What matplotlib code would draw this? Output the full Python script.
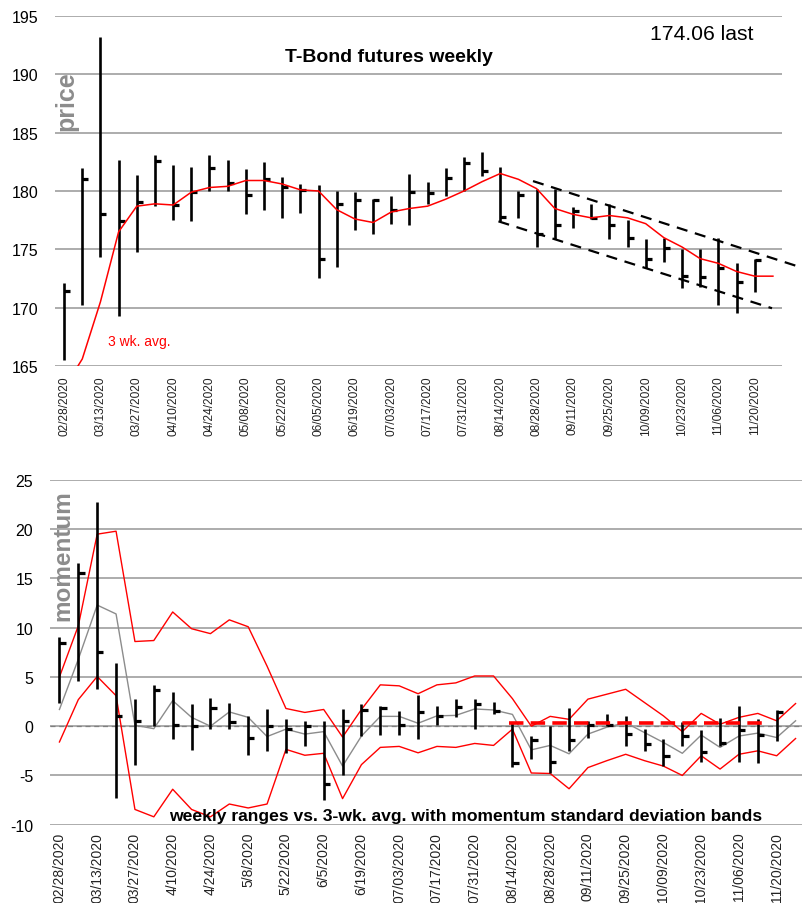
import matplotlib
matplotlib.use("Agg")
import matplotlib.pyplot as plt
import numpy as np

plt.rcParams['font.family'] = ['Liberation Sans', 'DejaVu Sans']
plt.rcParams['axes.unicode_minus'] = False

# ---------------- data ----------------
top_labels = ["02/28/2020", "03/13/2020", "03/27/2020", "04/10/2020", "04/24/2020",
              "05/08/2020", "05/22/2020", "06/05/2020", "06/19/2020", "07/03/2020",
              "07/17/2020", "07/31/2020", "08/14/2020", "08/28/2020", "09/11/2020",
              "09/25/2020", "10/09/2020", "10/23/2020", "11/06/2020", "11/20/2020"]
bot_labels = ["02/28/2020", "03/13/2020", "03/27/2020", "4/10/2020", "4/24/2020",
              "5/8/2020", "5/22/2020", "6/5/2020", "6/19/2020", "07/03/2020",
              "07/17/2020", "07/31/2020", "08/14/2020", "08/28/2020", "09/11/2020",
              "09/25/2020", "10/09/2020", "10/23/2020", "11/06/2020", "11/20/2020"]

price_high = [172.1, 182.0, 193.2, 182.7, 181.4, 183.1, 182.2, 182.1, 183.1, 182.7,
              181.9, 182.5, 181.2, 180.6, 180.5, 180.0, 179.9, 179.3, 179.6, 181.5,
              180.8, 182.0, 182.9, 183.3, 182.1, 180.0, 180.2, 180.2, 178.6, 178.9,
              178.9, 177.5, 175.9, 176.0, 175.0, 175.0, 176.0, 173.8, 174.2]
price_low = [165.5, 170.2, 174.3, 169.3, 174.8, 178.7, 177.5, 177.4, 180.0, 180.0,
             178.0, 178.4, 177.7, 178.1, 172.5, 173.5, 176.7, 176.3, 177.2, 177.1,
             178.9, 179.6, 180.0, 181.3, 177.4, 177.7, 175.2, 175.9, 176.8, 177.6,
             175.9, 175.2, 173.4, 173.9, 171.7, 171.8, 170.2, 169.5, 171.3]
price_close = [171.4, 181.0, 178.0, 177.4, 179.1, 182.6, 178.8, 179.9, 182.0, 180.7,
               179.7, 181.0, 180.3, 180.1, 174.2, 178.9, 179.2, 179.2, 178.4, 179.9,
               179.8, 181.1, 182.4, 181.7, 177.8, 179.7, 176.3, 177.1, 178.3, 177.7,
               177.1, 176.0, 174.2, 175.1, 172.7, 172.6, 173.4, 172.2, 174.06]
avg3 = [163.1, 165.6, 170.5, 176.5, 178.7, 178.9, 178.8, 179.9, 180.3, 180.4,
        180.9, 180.9, 180.6, 180.1, 180.0, 178.4, 177.6, 177.3, 178.2, 178.5,
        178.7, 179.3, 180.0, 180.8, 181.5, 181.0, 180.2, 178.5, 178.0, 177.7,
        177.9, 177.7, 177.2, 176.0, 175.2, 174.2, 173.8, 173.1, 172.7, 172.7]
# channel lines (x in week index, y in price)
chan_upper_x = [25.8, 40.65]
chan_upper_y = [180.85, 173.4]
chan_lower_x = [23.9, 38.95]
chan_lower_y = [177.4, 169.95]

mom_high = [9.1, 16.6, 22.8, 6.4, 2.75, 4.2, 3.5, 2.3, 2.9, 2.4,
            1.0, 1.7, 0.7, 0.5, 0.5, 1.7, 2.3, 2.1, 1.5, 3.15,
            2.1, 2.75, 2.8, 2.5, 0.4, -1.0, 0.0, 1.8, 0.5, 1.2,
            1.05, -0.3, -1.3, 0.45, -0.4, 0.8, 2.1, 0.7, 1.65]
mom_low = [2.4, 4.6, 3.8, -7.3, -3.9, 0.0, -1.25, -2.45, -0.3, -0.3,
           -2.95, -2.5, -2.75, -2.0, -7.5, -5.0, -1.0, -0.9, -0.9, -1.25,
           0.1, 0.9, -0.25, 1.2, -4.15, -3.35, -4.8, -2.5, -1.15, 0.0,
           -2.0, -2.5, -4.0, -2.0, -3.6, -2.0, -3.6, -3.7, -1.5]
mom_close = [8.4, 15.6, 7.5, 1.0, 0.5, 3.7, 0.1, 0.0, 1.8, 0.4,
             -1.15, 0.0, -0.25, 0.0, -5.9, 0.5, 1.65, 1.9, 0.15, 1.4,
             1.05, 2.0, 2.25, 1.5, -3.75, -1.4, -3.6, -1.4, 0.1, 0.1,
             -0.8, -1.85, -3.0, -1.0, -2.6, -1.75, -0.4, -0.9, 1.4]
band_upper = [5.0, 10.2, 19.5, 19.8, 8.6, 8.7, 11.6, 9.9, 9.4, 10.8,
              10.1, 6.1, 1.8, 1.4, 1.7, -1.1, 1.7, 4.2, 4.1, 3.3,
              4.2, 4.4, 5.1, 5.1, 2.8, 0.0, 1.0, 0.7, 2.75, 3.25,
              3.75, 2.4, 1.05, -0.55, 1.3, 0.2, 0.9, 1.3, 0.55, 2.3]
band_lower = [-1.6, 2.7, 5.05, 3.1, -8.45, -9.2, -6.4, -8.45, -9.2, -7.9,
              -8.3, -7.9, -2.35, -2.95, -2.75, -7.35, -3.9, -2.15, -2.05, -2.7,
              -2.05, -2.15, -1.75, -1.95, -0.3, -4.75, -4.8, -6.35, -4.2, -3.5,
              -2.85, -3.5, -4.05, -5.0, -3.0, -4.35, -2.85, -2.5, -3.0, -1.25]
mom_avg = [1.7, 6.8, 12.3, 11.4, 0.1, -0.25, 2.6, 0.9, 0.0, 1.45,
           0.9, -1.05, -0.3, -0.8, -0.55, -4.05, -1.0, 1.0, 1.0, 0.3,
           1.05, 1.1, 1.75, 1.65, 1.2, -2.4, -1.95, -2.8, -0.8, -0.1,
           0.35, -0.65, -1.65, -2.75, -0.9, -2.15, -1.0, -0.7, -1.15, 0.55]
mom_level_x = [23.8, 37.4]
mom_level_y = [0.35, 0.35]

# --------------- figure ---------------
W, H = 803, 904
fig = plt.figure(figsize=(W / 100, H / 100), dpi=100)

def fx(px):
    return px / W

def fy(py):
    return 1 - py / H

grid_c = '#a6a6a6'
n_cat = 40

def style_axes(ax, ymin, ymax, step):
    for s in ax.spines.values():
        s.set_visible(False)
    ax.set_xlim(-0.5, n_cat - 0.5)
    ax.set_ylim(ymin, ymax)
    ax.set_yticks(np.arange(ymin, ymax + 0.01, step))
    ax.yaxis.grid(True, color=grid_c, linewidth=1.3)
    ax.set_axisbelow(True)
    ax.tick_params(axis='both', length=0)

# ---- top panel ----
ax1 = fig.add_axes([fx(55), fy(367), fx(727), 350 / H])
style_axes(ax1, 165, 195, 5)
xs = np.arange(len(price_close))
ax1.vlines(xs, price_low, price_high, color='black', linewidth=1.9)
ax1.hlines(price_close, xs, xs + 0.33, color='black', linewidth=2.3)
ax1.plot(np.arange(len(avg3)), avg3, color='#ff0000', linewidth=1.1)
ax1.plot(chan_upper_x, chan_upper_y, color='black', linewidth=1.6,
         linestyle=(0, (5, 3.5)), clip_on=False)
ax1.plot(chan_lower_x, chan_lower_y, color='black', linewidth=1.6,
         linestyle=(0, (5, 3.5)), clip_on=False)
ax1.set_xticks(np.arange(0, n_cat, 2))
ax1.set_xticklabels(top_labels, rotation=90, fontsize=8.6, color='#222222')
ax1.tick_params(axis='x', pad=7)
ax1.tick_params(axis='y', labelsize=11.5, pad=12)

fig.text(fx(702), fy(35), "174.06 last", fontsize=15.2, ha='center', va='center')
fig.text(fx(389), fy(58), "T-Bond futures weekly", fontsize=14,
         fontweight='bold', ha='center', va='center')
fig.text(fx(66), fy(101), "price", fontsize=18, fontweight='bold',
         color='#8c8c8c', rotation=90, ha='center', va='center')
fig.text(fx(139), fy(342), "3 wk. avg.", fontsize=10, color='#ff0000',
         ha='center', va='center')

# ---- bottom panel ----
ax2 = fig.add_axes([fx(50), fy(825.7), fx(755), 344.7 / H])
style_axes(ax2, -10, 25, 5)
xm = np.arange(len(mom_close))
ax2.axhline(0, color='#7f7f7f', linewidth=0.9, linestyle=(0, (4, 3)), zorder=1)
ax2.plot(np.arange(len(band_upper)), band_upper, color='#ff0000', linewidth=1.0)
ax2.plot(np.arange(len(band_lower)), band_lower, color='#ff0000', linewidth=1.0)
ax2.plot(np.arange(len(mom_avg)), mom_avg, color='#8c8c8c', linewidth=1.0)
ax2.vlines(xm, mom_low, mom_high, color='black', linewidth=1.9, zorder=3)
ax2.hlines(mom_close, xm, xm + 0.33, color='black', linewidth=2.3, zorder=3)
ax2.plot(mom_level_x, mom_level_y, color='#ff0000', linewidth=2.6,
         linestyle=(0, (4, 2)), zorder=4)
ax2.set_xticks(np.arange(0, n_cat, 2))
ax2.set_xticklabels(bot_labels, rotation=90, fontsize=10, color='#222222')
ax2.tick_params(axis='x', pad=5)
ax2.tick_params(axis='y', labelsize=11.5, pad=12)

fig.text(fx(466), fy(817),
         "weekly ranges vs. 3-wk. avg. with momentum standard deviation bands",
         fontsize=12.6, fontweight='bold', ha='center', va='center')
fig.text(fx(63), fy(556), "momentum", fontsize=17.5, fontweight='bold',
         color='#8c8c8c', rotation=90, ha='center', va='center')

fig.savefig("out.png", dpi=100)
